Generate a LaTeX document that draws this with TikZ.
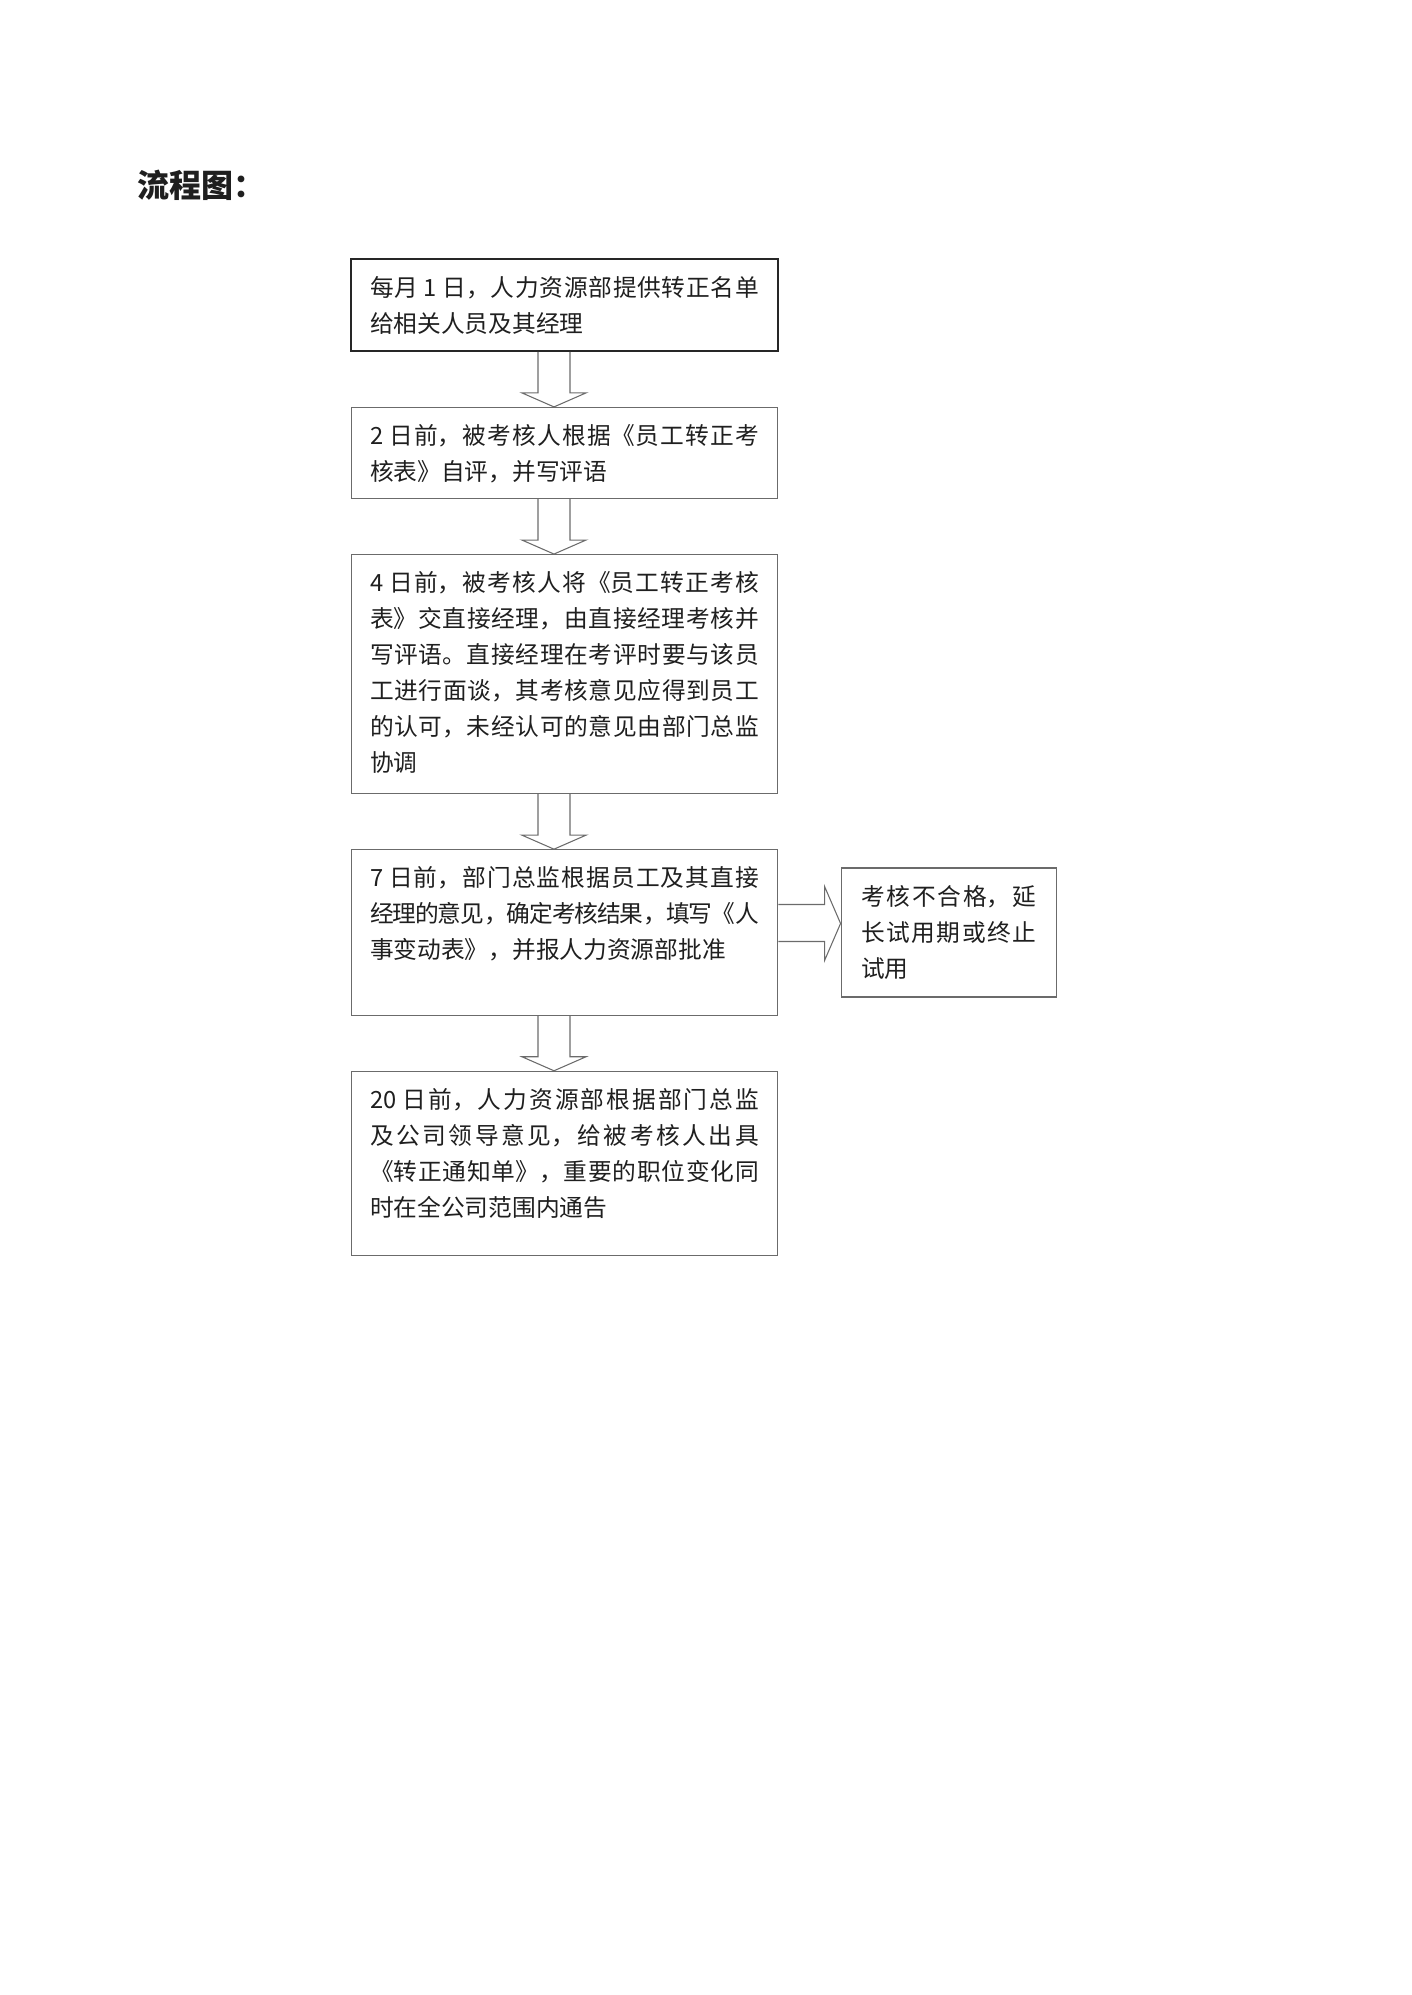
\documentclass[tikz,border=0pt]{standalone}
\usepackage{fontspec}
\setmainfont{Noto Sans CJK SC}
\usetikzlibrary{positioning,calc}

\XeTeXlinebreaklocale "zh"
\XeTeXlinebreakskip=0pt plus 2pt minus 0.5pt

\definecolor{linegray}{gray}{0.42}
\definecolor{darkline}{gray}{0.15}
\definecolor{textgray}{gray}{0.12}

% fixed-height text block, text at the top
\newcommand{\boxtext}[3]{\parbox[c][#2][t]{#1}{\fontsize{10pt}{15.2pt}\selectfont #3}}

\begin{document}
\begin{tikzpicture}[x=0.4217pt,y=0.4217pt,node distance=23.2pt,
    stepbox/.style={draw=linegray,line width=0.45pt,inner xsep=8pt,inner ysep=7.2pt,text=textgray},
    firstbox/.style={stepbox,draw=darkline,line width=0.9pt},
    sidebox/.style={stepbox,inner xsep=8.45pt},
    blockdown/.style={draw=linegray,line width=0.45pt,to path={
        ($(\tikztostart.south)+(-26.5,0)$) -- ($(\tikztotarget.north)+(-26.5,14)$)
        -- ($(\tikztotarget.north)+(-42.5,14)$) -- ($(\tikztotarget.north)+(-10.5,0)$)
        -- ($(\tikztotarget.north)+(21.5,14)$) -- ($(\tikztotarget.north)+(5.5,14)$)
        -- ($(\tikztostart.south)+(5.5,0)$)}},
    blockright/.style={draw=linegray,line width=0.45pt,to path={
        ($(\tikztostart.east)+(0,28)$) -- ($(\tikztotarget.west)+(-16,28)$)
        -- ($(\tikztotarget.west)+(-16,46)$) -- ($(\tikztotarget.west)+(0,9)$)
        -- ($(\tikztotarget.west)+(-16,-28)$) -- ($(\tikztotarget.west)+(-16,-9)$)
        -- ($(\tikztostart.east)+(0,-9)$)}}]
  \useasboundingbox (0,0) rectangle (1411,-1995);

  \node[anchor=west,inner sep=0pt,text=textgray,font=\bfseries\fontsize{13.5pt}{16pt}\selectfont] (title) at (137,-185) {流程图：};

  \node[firstbox,anchor=north west] (s1) at (350,-258)
    {\boxtext{164pt}{24.3pt}{每月 1 日，人力资源部提供转正名单\linebreak 给相关人员及其经理}};
  \node[stepbox] (s2) [below=of s1]
    {\boxtext{164pt}{24.0pt}{2 日前，被考核人根据《员工转正考\linebreak 核表》自评，并写评语}};
  \node[stepbox] (s3) [below=of s2]
    {\boxtext{164pt}{86.4pt}{4 日前，被考核人将《员工转正考核\linebreak 表》交直接经理，由直接经理考核并\linebreak 写评语。直接经理在考评时要与该员\linebreak 工进行面谈，其考核意见应得到员工\linebreak 的认可，未经认可的意见由部门总监\linebreak 协调}};
  \node[stepbox] (s4) [below=of s3]
    {\boxtext{164pt}{55.4pt}{7 日前，部门总监根据员工及其直接\linebreak 经理的意见，确定考核结果，填写《人\linebreak 事变动表》，并报人力资源部批准}};
  \node[stepbox] (s5) [below=of s4]
    {\boxtext{164pt}{63.2pt}{20 日前，人力资源部根据部门总监\linebreak 及公司领导意见，给被考核人出具\linebreak 《转正通知单》，重要的职位变化同\linebreak 时在全公司范围内通告}};
  \node[sidebox] (fail) [right=26.2pt of s4]
    {\boxtext{73.8pt}{40.0pt}{考核不合格，延\linebreak 长试用期或终止\linebreak 试用}};

  \path (s1) edge[blockdown] (s2)
        (s2) edge[blockdown] (s3)
        (s3) edge[blockdown] (s4)
        (s4) edge[blockdown] (s5)
        (s4) edge[blockright] (fail);
\end{tikzpicture}
\end{document}
